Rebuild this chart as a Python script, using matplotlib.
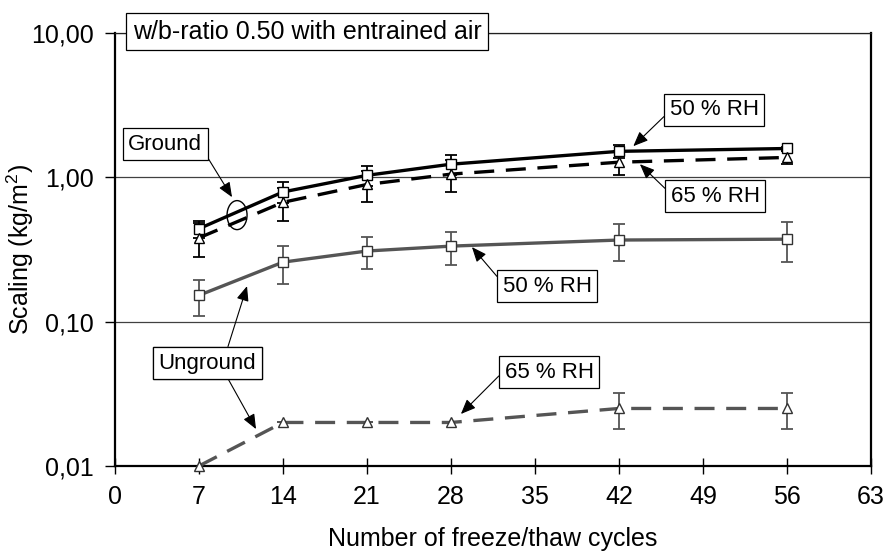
import matplotlib
matplotlib.use("Agg")
import matplotlib.pyplot as plt
from matplotlib.patches import Ellipse
from matplotlib.transforms import ScaledTranslation

plt.rcParams["font.family"] = ["Liberation Sans", "DejaVu Sans"]
plt.rcParams["mathtext.fontset"] = "custom"
plt.rcParams["mathtext.rm"] = "Liberation Sans"
plt.rcParams["mathtext.default"] = "regular"

# freeze/thaw cycles
cycles = [7, 14, 21, 28, 42, 56]

# ground surface
ground_50 = [0.44, 0.79, 1.03, 1.23, 1.51, 1.58]
ground_50_err = [0.06, 0.13, 0.16, 0.19, 0.15, 0.05]
ground_65 = [0.38, 0.67, 0.89, 1.05, 1.27, 1.37]
ground_65_err = [0.10, 0.17, 0.22, 0.26, 0.24, 0.14]

# unground surface
unground_50 = [0.152, 0.258, 0.308, 0.333, 0.367, 0.372]
unground_50_err = [0.043, 0.077, 0.077, 0.085, 0.105, 0.115]
unground_65 = [0.010, 0.020, 0.020, 0.020, 0.025, 0.025]
unground_65_err = [0.0, 0.0, 0.0, 0.0, 0.007, 0.007]

x_ticks = [0, 7, 14, 21, 28, 35, 42, 49, 56, 63]
y_ticks = [0.01, 0.1, 1, 10]
y_tick_labels = ["0,01", "0,10", "1,00", "10,00"]

BLACK = "#000000"
GREY = "#555555"

fig = plt.figure(figsize=(8.85, 5.56), dpi=100)
ax = fig.add_axes([0.130, 0.162, 0.854, 0.779])

ax.set_yscale("log")
ax.set_xlim(0, 63)
ax.set_ylim(0.01, 10)

# horizontal gridlines
for yv in [0.1, 1, 10]:
    ax.axhline(yv, color="#404040", lw=0.9, zorder=1)

series = [
    (ground_50, ground_50_err, BLACK, "-", "s"),
    (ground_65, ground_65_err, BLACK, "--", "^"),
    (unground_50, unground_50_err, GREY, "-", "s"),
    (unground_65, unground_65_err, GREY, "--", "^"),
]

for vals, err, col, ls, mk in series:
    ax.errorbar(cycles, vals, yerr=err, fmt="none", ecolor=col,
                elinewidth=1.3, capsize=4, capthick=1.3, zorder=2)
    line, = ax.plot(cycles, vals, color=col, ls=ls, lw=2.4, zorder=3)
    if ls == "--":
        line.set_dashes((6, 3.5))
    ax.plot(cycles, vals, ls="none", marker=mk, ms=7.5, mfc="white",
            mec=BLACK if col == BLACK else "#333333", mew=1.0, zorder=4,
            clip_on=False)

# ticks and labels
ax.set_xticks(x_ticks)
ax.set_yticks(y_ticks)
ax.set_yticklabels(y_tick_labels)
ax.minorticks_off()
ax.tick_params(axis="x", direction="inout", length=11, width=1.0,
               labelsize=18, pad=8)
ax.tick_params(axis="y", direction="out", length=7, width=1.0,
               labelsize=18, pad=8)
ax.set_xlabel("Number of freeze/thaw cycles", fontsize=18, labelpad=13)
ax.set_ylabel("Scaling (kg/m$^{2}$)", fontsize=18)
ax.yaxis.set_label_coords(-0.104, 0.5)

for side in ["left", "bottom", "right"]:
    ax.spines[side].set_linewidth(1.6)
    ax.spines[side].set_color(BLACK)
ax.spines["top"].set_linewidth(0.9)
ax.spines["top"].set_color("#202020")

box = dict(boxstyle="square,pad=0.25", fc="white", ec=BLACK, lw=0.9)


def arrow(rel):
    return dict(arrowstyle="-|>,head_length=0.6,head_width=0.25",
                color=BLACK, lw=0.8, shrinkA=0, shrinkB=0,
                mutation_scale=15, relpos=rel)


# title box on the top frame
ax.text(0.254, 1.003, "w/b-ratio 0.50 with entrained air", transform=ax.transAxes,
        ha="center", va="center", fontsize=18, bbox=dict(
            boxstyle="square,pad=0.25", fc="white", ec=BLACK, lw=0.9),
        zorder=10, clip_on=False)

# Ground label and ellipse
ax.annotate("Ground", xy=(9.75, 0.727), xytext=(4.17, 1.69), ha="center",
            va="center", fontsize=16, bbox=box, arrowprops=arrow((1, 0.3)),
            zorder=10)
tr = fig.dpi_scale_trans + ScaledTranslation(10.17, 0.546, ax.transData)
ax.add_patch(Ellipse((0, 0), 0.20, 0.29, transform=tr, fc="none", ec=BLACK,
                     lw=1.0, zorder=6))

ax.annotate("50 % RH", xy=(43.2, 1.64), xytext=(49.96, 2.93), ha="center",
            va="center", fontsize=16, bbox=box, arrowprops=arrow((0, 0.45)),
            zorder=10)
ax.annotate("65 % RH", xy=(43.75, 1.23), xytext=(50.04, 0.739), ha="center",
            va="center", fontsize=16, bbox=box, arrowprops=arrow((0, 0.6)),
            zorder=10)
ax.annotate("50 % RH", xy=(29.75, 0.328), xytext=(36.04, 0.176), ha="center",
            va="center", fontsize=16, bbox=box, arrowprops=arrow((0, 0.63)),
            zorder=10)

# Unground label with two arrows
ax.annotate("Unground", xy=(11.0, 0.176), xytext=(7.71, 0.0516), ha="center",
            va="center", fontsize=16, bbox=box, arrowprops=arrow((0.69, 1)),
            zorder=10)
ax.annotate("Unground", xy=(11.75, 0.018), xytext=(7.71, 0.0516), ha="center",
            va="center", fontsize=16, bbox=box, arrowprops=arrow((0.68, 0)),
            zorder=10)
ax.annotate("65 % RH", xy=(28.83, 0.0229), xytext=(36.2, 0.0447), ha="center",
            va="center", fontsize=16, bbox=box, arrowprops=arrow((0, 0.6)),
            zorder=10)

fig.savefig("out.png", dpi=100)
